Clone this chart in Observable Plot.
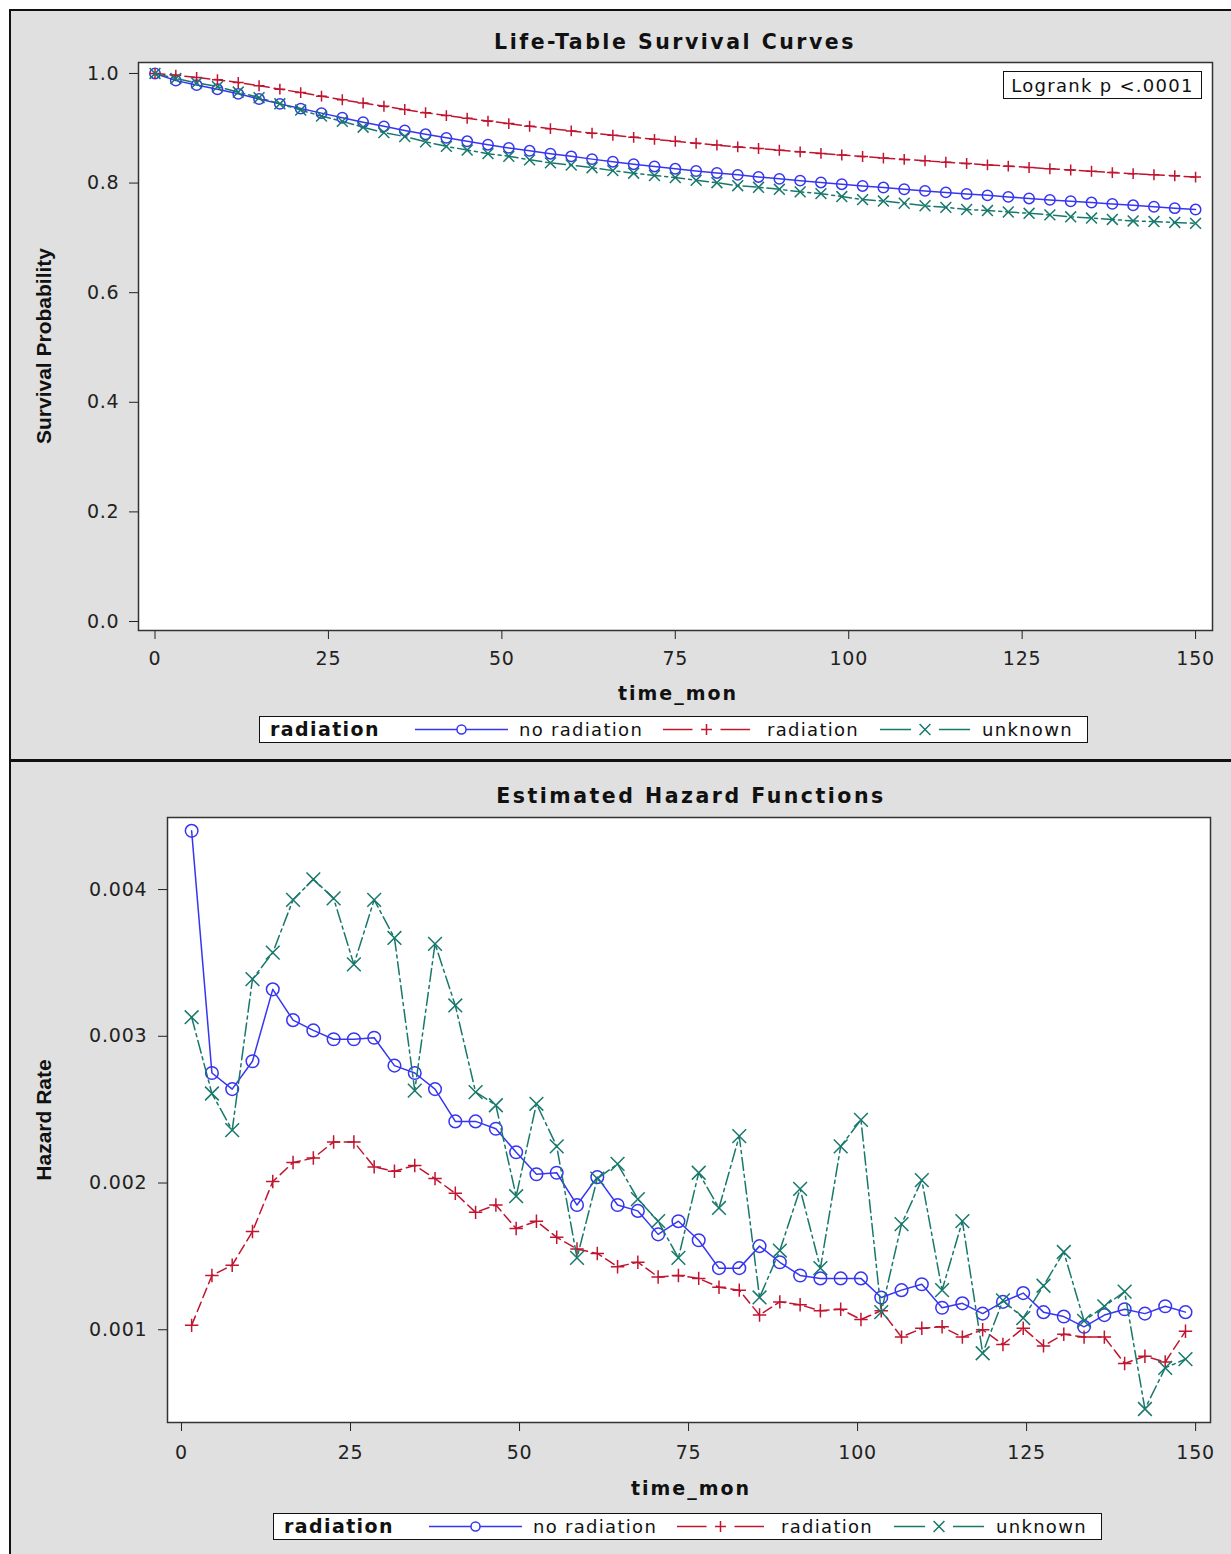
<!DOCTYPE html>
<html><head><meta charset="utf-8">
<script src="https://cdn.jsdelivr.net/npm/d3@7"></script>
<script src="https://cdn.jsdelivr.net/npm/@observablehq/plot@0.6"></script>
<style>
body{margin:0;background:#fff;}
#root{position:relative;width:1231px;height:1554px;overflow:hidden;background:#fff;}
.panel{position:absolute;background:#e0e0e0;border:2px solid #111;box-sizing:border-box;}
.abs{position:absolute;}
.ctr{position:absolute;white-space:nowrap;transform:translate(-50%,-50%);line-height:1;}
.title{font-family:"DejaVu Sans",sans-serif;font-weight:bold;font-size:20.5px;letter-spacing:2.5px;color:#111;}
.xlab{font-family:"DejaVu Sans",sans-serif;font-weight:bold;font-size:19px;letter-spacing:2px;color:#111;}
.ylab{font-family:"Liberation Sans",Arial,sans-serif;font-weight:bold;font-size:21px;color:#111;transform:translate(-50%,-50%) rotate(-90deg);}
.box{position:absolute;background:#fff;border:1px solid #111;box-sizing:border-box;font-family:"DejaVu Sans",sans-serif;font-size:18px;letter-spacing:1.3px;color:#111;display:flex;align-items:center;justify-content:center;}
</style></head>
<body><div id="root"></div>
<script>
// ---------- data ----------
const seriesNames = ["no radiation", "radiation", "unknown"];
const survTime = [0,3,6,9,12,15,18,21,24,27,30,33,36,39,42,45,48,51,54,57,60,63,66,69,72,75,78,81,84,87,90,93,96,99,102,105,108,111,114,117,120,123,126,129,132,135,138,141,144,147,150];
const survNoRad = [1,0.9869,0.9788,0.9711,0.9628,0.9533,0.9445,0.9359,0.9276,0.9193,0.9111,0.9035,0.8960,0.8890,0.8825,0.8762,0.8700,0.8642,0.8589,0.8536,0.8488,0.8437,0.8390,0.8344,0.8303,0.8260,0.8220,0.8185,0.8150,0.8112,0.8077,0.8044,0.8011,0.7979,0.7947,0.7918,0.7887,0.7857,0.7830,0.7802,0.7776,0.7748,0.7719,0.7693,0.7668,0.7645,0.7620,0.7594,0.7568,0.7542,0.7517];
const survRad = [1,0.9969,0.9928,0.9885,0.9836,0.9777,0.9714,0.9651,0.9586,0.9520,0.9460,0.9401,0.9342,0.9285,0.9231,0.9182,0.9131,0.9085,0.9037,0.8993,0.8952,0.8911,0.8873,0.8834,0.8798,0.8762,0.8726,0.8693,0.8660,0.8631,0.8600,0.8570,0.8541,0.8512,0.8485,0.8456,0.8432,0.8406,0.8381,0.8357,0.8332,0.8309,0.8284,0.8262,0.8238,0.8215,0.8191,0.8172,0.8152,0.8133,0.8109];
const survUnk = [1,0.9907,0.9829,0.9760,0.9661,0.9558,0.9446,0.9332,0.9222,0.9126,0.9019,0.8920,0.8850,0.8754,0.8670,0.8602,0.8537,0.8489,0.8424,0.8368,0.8330,0.8280,0.8227,0.8180,0.8138,0.8101,0.8051,0.8007,0.7952,0.7923,0.7886,0.7840,0.7807,0.7754,0.7698,0.7672,0.7632,0.7586,0.7557,0.7518,0.7499,0.7472,0.7448,0.7419,0.7385,0.7362,0.7336,0.7309,0.7298,0.7282,0.7265];

const hazTime = [1.5,4.5,7.5,10.5,13.5,16.5,19.5,22.5,25.5,28.5,31.5,34.5,37.5,40.5,43.5,46.5,49.5,52.5,55.5,58.5,61.5,64.5,67.5,70.5,73.5,76.5,79.5,82.5,85.5,88.5,91.5,94.5,97.5,100.5,103.5,106.5,109.5,112.5,115.5,118.5,121.5,124.5,127.5,130.5,133.5,136.5,139.5,142.5,145.5,148.5];
const hazNoRad = [0.00440,0.00275,0.00264,0.00283,0.00332,0.00311,0.00304,0.00298,0.00298,0.00299,0.00280,0.00275,0.00264,0.00242,0.00242,0.00237,0.00221,0.00206,0.00207,0.00185,0.00204,0.00185,0.00181,0.00165,0.00174,0.00161,0.00142,0.00142,0.00157,0.00146,0.00137,0.00135,0.00135,0.00135,0.00122,0.00127,0.00131,0.00115,0.00118,0.00111,0.00119,0.00125,0.00112,0.00109,0.00102,0.00110,0.00114,0.00111,0.00116,0.00112];
const hazRad = [0.00103,0.00137,0.00144,0.00167,0.00201,0.00214,0.00217,0.00228,0.00228,0.00211,0.00208,0.00212,0.00203,0.00193,0.00180,0.00185,0.00169,0.00174,0.00163,0.00155,0.00152,0.00143,0.00146,0.00136,0.00137,0.00135,0.00129,0.00127,0.00110,0.00119,0.00117,0.00113,0.00114,0.00107,0.00113,0.00095,0.00101,0.00102,0.00095,0.00100,0.00090,0.00101,0.00089,0.00097,0.00095,0.00095,0.00077,0.00082,0.00078,0.00099];
const hazUnk = [0.00313,0.00261,0.00236,0.00339,0.00357,0.00393,0.00407,0.00394,0.00349,0.00393,0.00367,0.00263,0.00363,0.00321,0.00262,0.00253,0.00191,0.00254,0.00225,0.00149,0.00203,0.00213,0.00189,0.00174,0.00149,0.00207,0.00183,0.00232,0.00122,0.00154,0.00196,0.00142,0.00225,0.00243,0.00112,0.00172,0.00202,0.00127,0.00174,0.00084,0.00120,0.00108,0.00130,0.00153,0.00106,0.00116,0.00126,0.00046,0.00074,0.00080];

const xTicks = [0,25,50,75,100,125,150];
const survTicks = [0,0.2,0.4,0.6,0.8,1.0];
const hazTicks = [0.001,0.002,0.003,0.004];

// ---------- styles ----------
const styles = [
  {color:"#3636f2", symbol:"circle", dash:null},
  {color:"#c0142f", symbol:"plus", dash:"10,5"},
  {color:"#17786b", symbol:"times", dash:"13,4,3,4"}
];

const root = document.getElementById("root");
function el(tag, cls, css, text){ const e=document.createElement(tag); if(cls) e.className=cls; Object.assign(e.style, css||{}); if(text!=null) e.textContent=text; root.appendChild(e); return e; }

// panels
el("div","panel",{left:"9px",top:"9px",width:"1240px",height:"752px"});
el("div","panel",{left:"9px",top:"760px",width:"1240px",height:"820px"});

function makeSeries(times, vals){ return times.map((t,i)=>({t, v: vals[i]})); }

function chart(opts){
  const marks = [Plot.frame({fill:"white"})];
  opts.series.forEach((vals,k)=>{
    const data = makeSeries(opts.times, vals);
    const s = styles[k];
    marks.push(Plot.line(data,{x:"t",y:"v",stroke:s.color,strokeWidth:1.5,strokeDasharray:s.dash||undefined}));
    marks.push(Plot.dot(data,{x:"t",y:"v",symbol:s.symbol,stroke:s.color,fill:"none",strokeWidth:1.5,r:opts.r[k]}));
  });
  marks.push(Plot.frame({stroke:"#333",strokeWidth:1.5}));
  return Plot.plot({
    width:1231, height:opts.height,
    marginLeft:opts.ml, marginRight:opts.mr, marginTop:opts.mt, marginBottom:opts.mb,
    style:{background:"transparent",fontFamily:"DejaVu Sans, sans-serif",fontSize:"19px",letterSpacing:"0.8px",color:"#222",overflow:"visible"},
    x:{domain:opts.xd, ticks:xTicks, tickSize:9, tickPadding:opts.xp, label:null, tickFormat:d=>String(d)},
    y:{domain:opts.yd, ticks:opts.yt, tickSize:9, tickPadding:opts.yp, label:null, tickFormat:opts.yf},
    marks
  });
}

// top chart
const survChart = chart({
  height:700, ml:138, mr:19, mt:62, mb:70,
  xd:[-2.38,152.44], yd:[-0.0164,1.020], yt:survTicks, yf:d3.format(".1f"), yp:10, xp:12,
  times:survTime, series:[survNoRad,survRad,survUnk], r:[5.2,3.6,5.0]
});
const wrapTop = el("div","abs",{left:"0px",top:"0px"}); wrapTop.appendChild(survChart);

// bottom chart
const hazChart = chart({
  height:700, ml:167, mr:21, mt:55, mb:40,
  xd:[-2.07,152.2], yd:[0.000368,0.004491], yt:hazTicks, yf:d3.format(".3f"), yp:11, xp:14,
  times:hazTime, series:[hazNoRad,hazRad,hazUnk], r:[6.3,4.4,6.3]
});
const wrapBot = el("div","abs",{left:"0px",top:"762px"}); wrapBot.appendChild(hazChart);

// titles and axis labels
el("div","ctr title",{left:"675px",top:"42px"},"Life-Table Survival Curves");
el("div","ctr xlab",{left:"678px",top:"693px"},"time_mon");
el("div","ctr ylab",{left:"43px",top:"346px"},"Survival Probability");
el("div","ctr title",{left:"691px",top:"796px"},"Estimated Hazard Functions");
el("div","ctr xlab",{left:"691px",top:"1488px"},"time_mon");
el("div","ctr ylab",{left:"43px",top:"1120px"},"Hazard Rate");

// logrank box
el("div","box",{left:"1003px",top:"71px",width:"199px",height:"28px"},"Logrank p <.0001");

// legends
function legend(left, topY){
  const w=829,h=27;
  const svg = d3.create("svg").attr("width",w).attr("height",h)
    .style("position","absolute").style("left",left+"px").style("top",topY+"px");
  svg.append("rect").attr("x",0.5).attr("y",0.5).attr("width",w-1).attr("height",h-1).attr("fill","white").attr("stroke","#111");
  const cy=h/2;
  svg.append("text").attr("x",11).attr("y",cy).attr("dy","0.36em").attr("font-family","DejaVu Sans, sans-serif").attr("font-weight","bold").attr("font-size",19).attr("letter-spacing","1.4px").attr("fill","#111").text("radiation");
  const items=[{x0:156,x1:249,tx:260},{x0:404,x1:491,tx:508},{x0:621,x1:711,tx:723}];
  const sizes=[4.5*4.5*Math.PI, 3.6*3.6*Math.PI, 5*5*Math.PI];
  const syms=[d3.symbolCircle,d3.symbolPlus,d3.symbolTimes];
  items.forEach((it,k)=>{
    const s=styles[k];
    const cx=(it.x0+it.x1)/2;
    if(k===0){
      svg.append("line").attr("x1",it.x0).attr("x2",it.x1).attr("y1",cy).attr("y2",cy).attr("stroke",s.color).attr("stroke-width",1.5);
    } else {
      svg.append("line").attr("x1",it.x0).attr("x2",cx-14).attr("y1",cy).attr("y2",cy).attr("stroke",s.color).attr("stroke-width",1.5);
      svg.append("line").attr("x1",cx+14).attr("x2",it.x1).attr("y1",cy).attr("y2",cy).attr("stroke",s.color).attr("stroke-width",1.5);
    }
    svg.append("path").attr("d",d3.symbol(syms[k],sizes[k])()).attr("transform",`translate(${cx},${cy})`).attr("fill",k===0?"white":"none").attr("stroke",s.color).attr("stroke-width",1.5);
    svg.append("text").attr("x",it.tx).attr("y",cy).attr("dy","0.36em").attr("font-family","DejaVu Sans, sans-serif").attr("font-size",18).attr("letter-spacing","1.3px").attr("fill","#111").text(seriesNames[k]);
  });
  root.appendChild(svg.node());
}
legend(259,716);
legend(273,1513);
</script>
</body></html>
